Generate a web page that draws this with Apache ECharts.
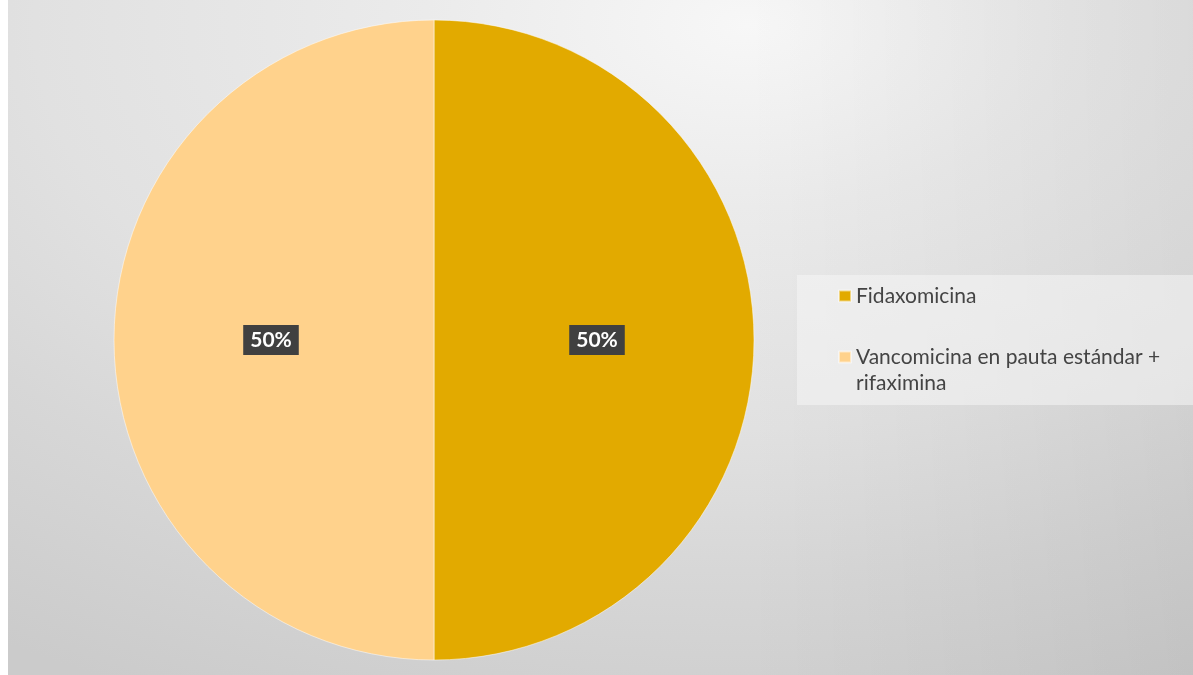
<!DOCTYPE html>
<html>
<head>
<meta charset="utf-8">
<script src="https://cdn.jsdelivr.net/npm/echarts@6/dist/echarts.min.js"></script>
<style>
  html, body { margin: 0; padding: 0; width: 1193px; height: 675px; overflow: hidden; background: #ffffff; }
  #bg { position: absolute; left: 8px; top: 0; width: 1185px; height: 675px;
        background:
          linear-gradient(to right, rgba(0,0,0,0) 62%, rgba(0,0,0,0.06) 100%),
          radial-gradient(ellipse 1150px 650px at 740px 25px, #f7f7f7 0%, #ebebeb 28%, #e1e1e1 62%, #d7d7d7 84%, #cbcbcb 115%); }
  #chart { position: absolute; left: 0; top: 0; width: 1193px; height: 675px; }
</style>
</head>
<body>
<div id="bg"></div>
<div id="chart"></div>
<script>
const categories = ["Fidaxomicina", "Vancomicina en pauta estándar + rifaximina"];
const values = [50, 50];
const colors = ["#E2AA00", "#FFD28C"];
const legendLabels = ["Fidaxomicina", "\nVancomicina en pauta estándar +\nrifaximina"];

const chart = echarts.init(document.getElementById('chart'), null, { renderer: 'canvas' });
const fontFam = "Lato, 'Open Sans', sans-serif";

const option = {
  backgroundColor: 'transparent',
  animation: false,
  color: colors,
  graphic: [
    { type: 'rect', left: 797, top: 275, shape: { width: 396, height: 130 },
      style: { fill: 'rgba(246,246,246,0.55)' }, z: 0 }
  ],
  legend: {
    orient: 'vertical',
    left: 838,
    top: 275,
    padding: [8, 0, 9, 0],
    itemGap: 9,
    itemWidth: 12,
    itemHeight: 11,
    icon: 'rect',
    data: categories,
    formatter: function (name) { return legendLabels[categories.indexOf(name)]; },
    textStyle: { fontFamily: fontFam, fontSize: 21, color: '#444444', lineHeight: 26 },
    selectedMode: false
  },
  series: [{
    type: 'pie',
    center: [434, 340],
    radius: [0, 320],
    startAngle: 90,
    clockwise: true,
    silent: true,
    itemStyle: { borderColor: 'rgba(255,255,255,0.5)', borderWidth: 1 },
    label: {
      position: 'inside',
      formatter: function (p) { return Math.round(p.percent) + '%'; },
      color: '#ffffff',
      fontFamily: fontFam,
      fontWeight: 'bold',
      fontSize: 21,
      backgroundColor: '#404040',
      padding: [3, 7, 2, 7],
      lineHeight: 25
    },
    labelLine: { show: false },
    data: categories.map((c, i) => ({ name: c, value: values[i] }))
  }]
};
chart.setOption(option);
</script>
</body>
</html>
